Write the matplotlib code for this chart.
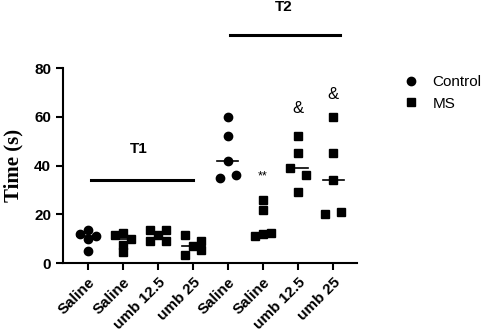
import matplotlib.pyplot as plt
import numpy as np

groups = ['Saline', 'Saline', 'umb 12.5', 'umb 25', 'Saline', 'Saline', 'umb 12.5', 'umb 25']
is_control = [True, False, False, False, True, False, False, False]
values = [
    [12, 13.5, 11, 10, 5],
    [11.5, 12.5, 10, 7.5, 4.5],
    [13.5, 13.5, 9, 9, 11.5],
    [11.5, 9, 5.5, 3.5, 7],
    [60, 52, 42, 35, 36],
    [26, 22, 11, 12.5, 12],
    [52, 45, 39, 36, 29],
    [60, 45, 34, 20, 21],
]
# horizontal spread of the points inside each group
jitter = [
    [-0.22, 0, 0.22, 0, 0],
    [-0.22, 0, 0.22, 0, 0],
    [-0.22, 0.22, -0.22, 0.22, 0],
    [-0.22, 0.22, 0.22, -0.22, 0],
    [0, 0, 0, -0.22, 0.22],
    [0, 0, -0.22, 0.22, 0],
    [0, 0, -0.22, 0.22, 0],
    [0, 0, 0, -0.22, 0.22],
]
medians = [11, 10, 11.8, 7, 42, 12, 39, 34]
annotations = {5: ('**', 35.5), 6: ('&', 63.5), 7: ('&', 69)}

plt.rcParams['font.family'] = ['Liberation Sans', 'DejaVu Sans']
fig = plt.figure(figsize=(4.84, 3.31), dpi=100)
ax = fig.add_axes([0.130, 0.205, 0.608, 0.589])

for i, (vals, jit) in enumerate(zip(values, jitter)):
    marker = 'o' if is_control[i] else 's'
    ax.plot(i + np.array(jit), vals, linestyle='none', marker=marker,
            color='black', markersize=6, clip_on=False, zorder=3)
    ax.plot([i - 0.3, i + 0.3], [medians[i], medians[i]], color='black', lw=1.2, zorder=2)

for i, (txt, y) in annotations.items():
    ax.text(i, y, txt, ha='center', va='center', fontsize=12 if txt == '&' else 9)

# T1 / T2 brackets
ax.plot([0.1, 3.0], [34.3, 34.3], color='black', lw=2.2)
ax.text(1.45, 47, 'T1', ha='center', va='center', fontsize=11, fontweight='bold')
ax.plot([4.06, 7.2], [93.5, 93.5], color='black', lw=2.2, clip_on=False)
ax.text(5.6, 105, 'T2', ha='center', va='center', fontsize=11, fontweight='bold')

ax.set_xlim(-0.71, 7.69)
ax.set_ylim(0, 80)
ax.set_yticks([0, 20, 40, 60, 80])
ax.set_xticks(range(len(groups)))
ax.set_xticklabels(groups, rotation=45, ha='right', rotation_mode='anchor',
                   fontsize=11, fontweight='bold')
for lbl in ax.get_yticklabels():
    lbl.set_fontweight('bold')
    lbl.set_fontsize(11)
ax.set_ylabel('Time (s)', family='Liberation Serif', fontweight='bold', fontsize=15,
              labelpad=8)
ax.spines['top'].set_visible(False)
ax.spines['right'].set_visible(False)
ax.spines['left'].set_linewidth(1.5)
ax.spines['bottom'].set_linewidth(1.5)
ax.tick_params(width=1.5, length=5)

# legend
h1, = ax.plot([], [], 'o', color='black', markersize=6, label='Control')
h2, = ax.plot([], [], 's', color='black', markersize=6, label='MS')
fig.legend(handles=[h1, h2], loc='upper left', bbox_to_anchor=(0.805, 0.815),
           frameon=False, fontsize=11, handletextpad=0.9, handlelength=1)

fig.savefig('out.png', dpi=100)
